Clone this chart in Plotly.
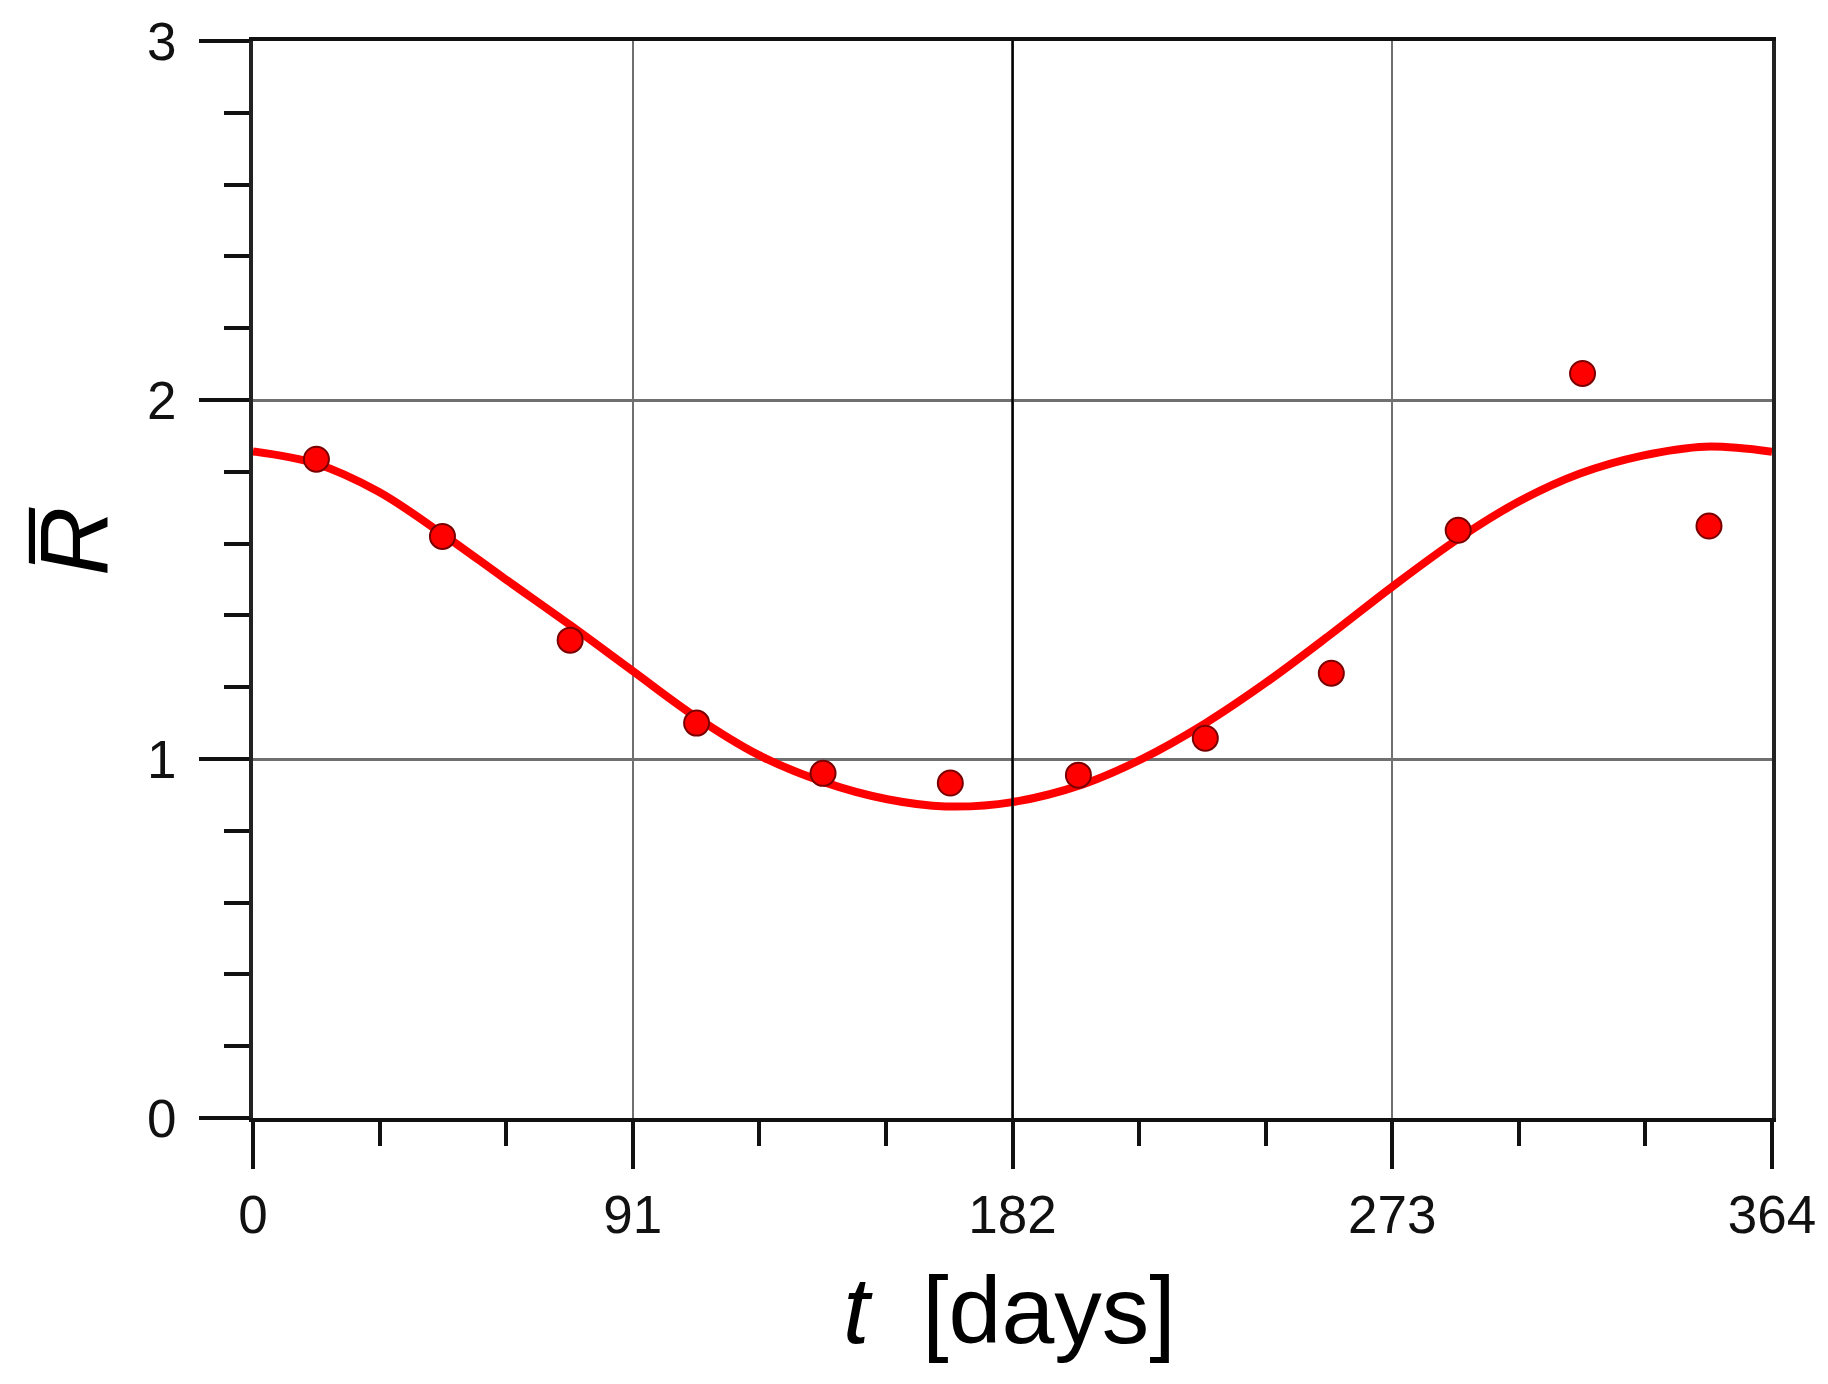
import plotly.graph_objects as go

# ---- data ----
obs_day = [15.2, 45.4, 76.0, 106.3, 136.6, 167.1, 197.8, 228.2, 258.4, 288.8, 318.6, 348.9]
obs_R = [1.835, 1.620, 1.331, 1.100, 0.960, 0.933, 0.955, 1.058, 1.239, 1.637, 2.074, 1.649]

fit_day = [0, 15, 30, 45, 60, 76, 91, 106, 121, 137, 152, 166, 182, 199, 213, 228,
           243, 258, 273, 289, 303, 318, 333, 348, 364]
fit_R = [1.857, 1.823, 1.745, 1.630, 1.505, 1.373, 1.245, 1.118, 1.012, 0.935, 0.888,
         0.868, 0.880, 0.930, 1.000, 1.098, 1.215, 1.345, 1.480, 1.615, 1.715, 1.795,
         1.845, 1.870, 1.856]

x_ticks = [0, 91, 182, 273, 364]
y_ticks = [0, 1, 2, 3]

FONT = "Liberation Sans, Arial, sans-serif"

fig = go.Figure()
fig.add_trace(go.Scatter(
    x=fit_day, y=fit_R, mode="lines", line=dict(color="#ff0000", width=8, shape="spline"),
    showlegend=False, hoverinfo="skip"))
fig.add_trace(go.Scatter(
    x=obs_day, y=obs_R, mode="markers",
    marker=dict(size=25, color="#ff0000", line=dict(color="#7a0000", width=2)),
    showlegend=False))

# emphasised middle gridline (at the central tick), drawn over the curve as in the reference
fig.add_vline(x=x_ticks[2], line=dict(color="#000000", width=2.5), layer="above")

fig.update_xaxes(
    range=[x_ticks[0], x_ticks[-1]], tickvals=x_ticks, ticktext=[str(v) for v in x_ticks],
    showgrid=True, gridcolor="#707070", gridwidth=2,
    showline=True, linecolor="#111111", linewidth=4, mirror=True,
    ticks="outside", ticklen=47, tickwidth=4, tickcolor="#111111",
    ticklabelstandoff=0,
    minor=dict(dtick=(x_ticks[1] - x_ticks[0]) / 3, tick0=0, ticks="outside", ticklen=24,
               tickwidth=4, tickcolor="#111111", showgrid=False),
    tickfont=dict(family=FONT, size=53, color="#111111"),
    zeroline=False,
)
fig.update_yaxes(
    range=[y_ticks[0], y_ticks[-1]], tickvals=y_ticks, ticktext=[str(v) for v in y_ticks],
    showgrid=True, gridcolor="#707070", gridwidth=3,
    showline=True, linecolor="#222222", linewidth=4, mirror=True,
    ticks="outside", ticklen=50, tickwidth=4, tickcolor="#111111",
    ticklabelstandoff=12,
    minor=dict(dtick=0.2, tick0=0, ticks="outside", ticklen=25, tickwidth=4,
               tickcolor="#111111", showgrid=False),
    tickfont=dict(family=FONT, size=53, color="#111111"),
    zeroline=False,
)

fig.add_annotation(
    text="<i>t</i>&nbsp;&nbsp;[days]", xref="paper", yref="paper", x=0.498, y=-0.178,
    showarrow=False, font=dict(family=FONT, size=95, color="#000000"),
    xanchor="center", yanchor="middle")
fig.add_annotation(
    text="<i>R\u0305</i>", xref="paper", yref="paper", x=-0.117, y=0.535,
    showarrow=False, textangle=-90, font=dict(family=FONT, size=96, color="#000000"),
    xanchor="center", yanchor="middle")

fig.update_layout(
    width=1828, height=1384,
    margin=dict(l=253, r=54, t=41, b=266),
    paper_bgcolor="white", plot_bgcolor="white",
)

fig.write_html("out.html", config={"displayModeBar": False},
               post_script="document.body.style.margin='0px';")
